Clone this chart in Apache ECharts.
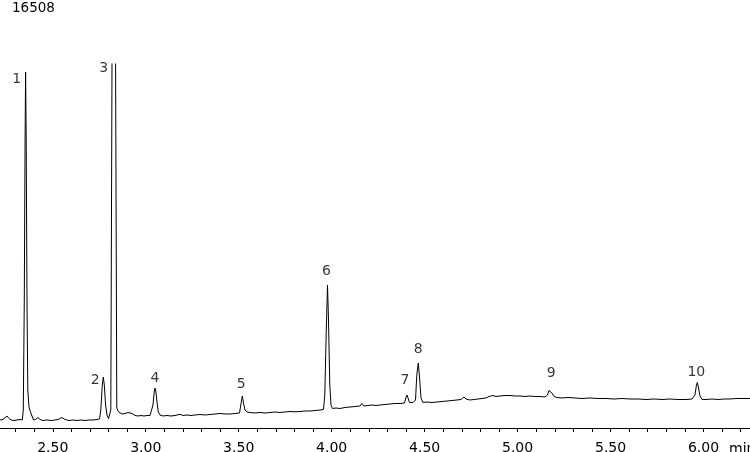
<!DOCTYPE html>
<html>
<head>
<meta charset="utf-8">
<script src="https://cdn.jsdelivr.net/npm/echarts@6/dist/echarts.min.js"></script>
<style>
html,body{margin:0;padding:0;background:#fff;}
#chart{width:750px;height:452px;}
</style>
</head>
<body>
<div id="chart"></div>
<script>
// ---- data (time in min, detector response) ----
const fullScale = 16508;
const xMin = 2.2;
const xMax = 6.25;
const tickLabels = ['2.50','3.00','3.50','4.00','4.50','5.00','5.50','6.00'];

const times = [
  2.2000,2.2161,2.2323,2.2430,2.2538,2.2645,2.2753,2.2914,2.3076,2.3237,2.3361,
  2.3414,2.3468,2.3511,2.3538,2.3570,2.3614,2.3657,2.3721,2.3802,2.3882,2.3963,
  2.4071,2.4205,2.4313,2.4474,2.4689,2.4904,2.5119,2.5281,2.5496,2.5657,2.5872,
  2.6088,2.6303,2.6518,2.6733,2.6948,2.7163,2.7378,2.7513,
  2.7583,2.7663,2.7717,2.7771,2.7841,2.7916,2.7997,2.8078,
  2.8121,2.8282,2.8443,2.8524,2.8615,2.8723,2.8884,2.9046,2.9153,2.9261,2.9422,
  2.9584,2.9745,2.9906,3.0068,3.0229,3.0326,
  3.0390,3.0455,3.0498,3.0541,3.0605,3.0675,3.0767,3.0928,3.1143,3.1358,3.1574,
  3.1843,3.2004,3.2219,3.2434,3.2649,3.2918,3.3187,3.3456,3.3725,3.3994,3.4263,
  3.4532,3.4801,3.5043,
  3.5113,3.5193,3.5269,3.5338,3.5446,3.5607,3.5876,3.6145,3.6414,3.6683,3.6952,
  3.7221,3.7490,3.7759,3.8028,3.8297,3.8566,3.8834,3.9103,3.9372,3.9560,
  3.9630,3.9711,3.9776,3.9829,3.9899,3.9964,4.0045,4.0233,4.0448,4.0717,4.0986,
  4.1255,4.1524,4.1631,4.1739,4.1954,4.2169,4.2384,4.2599,4.2868,4.3137,4.3406,
  4.3675,4.3917,
  4.3998,4.4051,4.4105,4.4186,4.4267,4.4374,4.4509,
  4.4579,4.4659,4.4729,4.4804,4.4912,4.5127,4.5396,4.5665,4.5934,4.6203,4.6472,
  4.6741,4.6956,4.7117,4.7225,4.7440,4.7655,4.7870,4.8085,4.8300,4.8462,4.8569,
  4.8677,4.8838,4.9053,4.9322,4.9591,4.9860,5.0129,5.0398,5.0667,5.0936,5.1205,
  5.1474,5.1608,
  5.1689,5.1753,5.1850,5.1958,5.2119,5.2388,5.2711,5.3087,5.3464,5.3894,5.4324,
  5.4755,5.5185,5.5615,5.6045,5.6476,5.6906,5.7336,5.7766,5.8197,5.8627,5.9057,
  5.9380,5.9541,
  5.9611,5.9665,5.9735,5.9810,5.9918,6.0133,6.0456,6.0778,6.1101,6.1424,6.1746,
  6.2069,6.2392,6.2500
];

const intensities = [
  408,363,385,454,544,431,363,340,363,385,363,
  816,5805,13061,16145,13061,5805,1723,952,726,544,363,
  385,476,385,340,363,340,363,385,476,385,340,
  363,340,363,340,363,363,385,408,
  816,1950,2313,1950,1043,590,431,499,
  816,40000,907,739,680,635,658,703,748,658,567,
  544,567,544,567,567,635,
  1043,1633,1814,1678,1179,726,590,544,567,544,567,
  621,567,590,567,590,612,590,612,635,658,635,
  635,658,680,
  1043,1451,1088,816,726,703,680,703,680,703,726,
  703,726,748,735,748,771,771,794,816,839,
  1497,4444,6485,4898,1950,1043,884,907,884,930,952,
  975,998,1111,998,1020,1043,1020,1043,1066,1088,1111,
  1111,1134,
  1383,1497,1361,1156,1134,1156,1270,
  2404,2948,2268,1361,1156,1179,1156,1179,1202,1224,1247,
  1270,1292,1406,1315,1270,1292,1315,1338,1361,1429,1519,
  1474,1429,1451,1474,1474,1451,1451,1429,1451,1429,1429,
  1406,1497,
  1701,1769,1587,1429,1383,1361,1383,1361,1338,1361,1338,
  1338,1315,1338,1315,1315,1292,1315,1292,1315,1292,1292,
  1315,1497,
  1905,2063,1814,1451,1292,1292,1315,1292,1315,1315,1338,
  1338,1338,1338
];

// peak annotations
const peakNames   = ['1','2','3','4','5','6','7','8','9','10'];
const peakTimes   = [2.3538, 2.7717, 2.8282, 3.0498, 3.5193, 3.9776, 4.4051, 4.4659, 5.1753, 5.9665];
const peakHeights = [16145, 2313, 16508, 1814, 1451, 6485, 1497, 2948, 1769, 2063];

// label placement (style only, pixel offsets from the peak apex)
const labelOffsets = [[-9,7],[-8,3],[-10,4],[0,-10],[-1,-12],[-1,-14],[-2,-15],[0,-14],[1,-16],[-1,-10]];

const FONT = 'DejaVu Sans';

const trace = times.map((t, i) => [t, intensities[i]]);
const peakPoints = peakTimes.map((t, i) => ({
  value: [t, peakHeights[i]],
  name: peakNames[i],
  label: { offset: labelOffsets[i] }
}));

const chart = echarts.init(document.getElementById('chart'), null, { renderer: 'canvas' });
chart.setOption({
  animation: false,
  backgroundColor: '#ffffff',
  title: {
    text: String(fullScale),
    left: 7, top: -4,
    textStyle: { fontFamily: FONT, fontSize: 13.5, fontWeight: 'normal', color: '#000' }
  },
  grid: { left: -3, right: 0, top: 64, bottom: 24, containLabel: false, outerBoundsMode: 'none' },
  xAxis: {
    type: 'value',
    min: xMin, max: xMax, interval: 0.1,
    axisLine: { show: true, lineStyle: { color: '#000', width: 1 } },
    axisTick: { show: true, length: 4, inside: false, lineStyle: { color: '#000' } },
    splitLine: { show: false },
    axisLabel: {
      show: true, margin: 13,
      fontFamily: FONT, fontSize: 14, color: '#000',
      showMinLabel: true, showMaxLabel: true, hideOverlap: false,
      formatter: function (v) {
        const s = Number(v).toFixed(2);
        return tickLabels.indexOf(s) >= 0 ? s : '';
      }
    }
  },
  yAxis: {
    type: 'value', min: 0, max: fullScale,
    show: false, splitLine: { show: false }
  },
  graphic: [{
    type: 'text', left: 729, top: 442,
    style: { text: 'min', font: '14px "DejaVu Sans"', fill: '#000' }
  }],
  series: [
    {
      type: 'line',
      data: trace,
      showSymbol: false,
      symbol: 'none',
      clip: true,
      lineStyle: { color: '#000', width: 1 },
      silent: true
    },
    {
      type: 'scatter',
      data: peakPoints,
      symbolSize: 0,
      clip: false,
      silent: true,
      label: {
        show: true,
        position: 'inside',
        formatter: '{b}',
        fontFamily: FONT, fontSize: 14, color: '#000'
      }
    }
  ]
});
</script>
</body>
</html>
